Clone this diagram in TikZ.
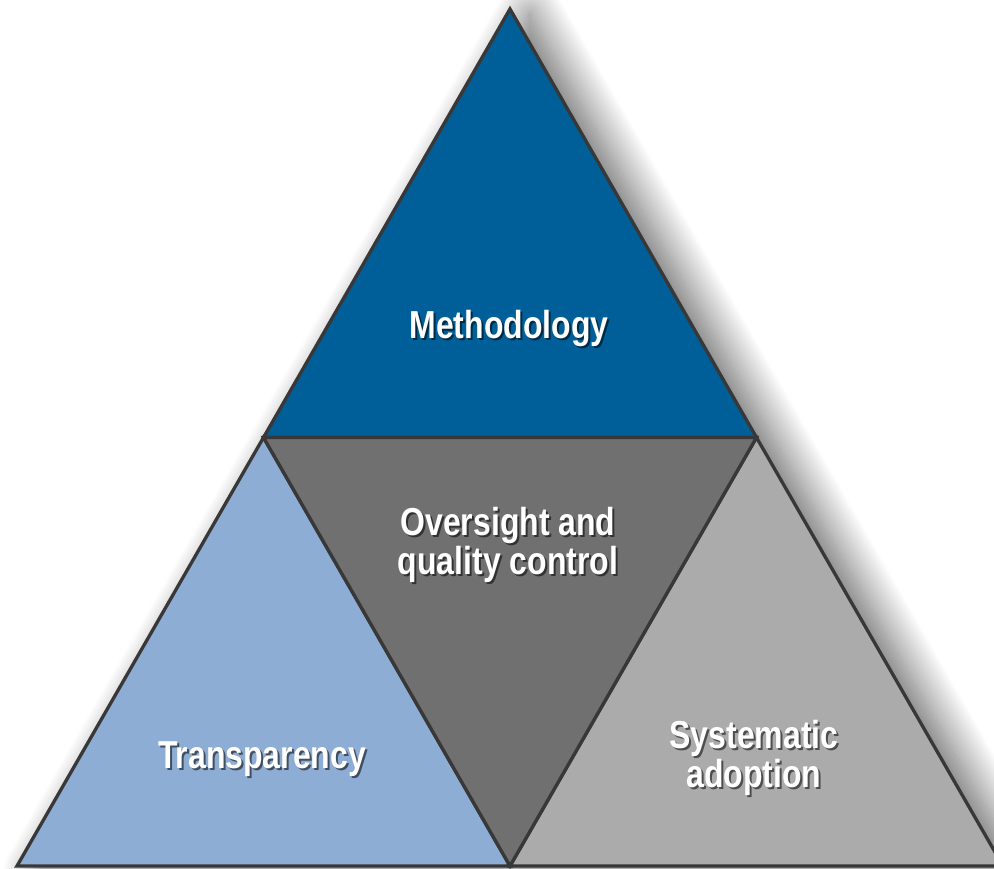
\documentclass[tikz,border=0pt]{standalone}
\usepackage{fontspec}
\usepackage{xcolor}
\usepackage{tikz}
\usetikzlibrary{shadows.blur}
\newfontfamily\labelfont{Liberation Sans}[FakeStretch=0.82]
\definecolor{methblue}{HTML}{005F99}
\definecolor{transblue}{HTML}{8EADD5}
\definecolor{overgray}{HTML}{707070}
\definecolor{adoptgray}{HTML}{ABABAB}
\definecolor{edgegray}{HTML}{383838}
\tikzstyle{piece} = [draw=edgegray, line width=3.3pt, line join=miter]
\tikzstyle{label} = [text=white, align=center, font=\labelfont\bfseries\fontsize{39}{38}\selectfont]
% one line of white text with a dark drop shadow under it
\newcommand{\shadowline}[2]{\rlap{\hspace{2pt}\raisebox{-2pt}{\textcolor{#1}{#2}}}#2}
\begin{document}
\begin{tikzpicture}[x=1pt, y=1pt]
   \useasboundingbox (0,0) rectangle (994,869);
   \coordinate (top) at (510,860);
   \coordinate (bl) at (17,3);
   \coordinate (br) at (1003,3);
   \coordinate (ml) at (263.5,431.5);
   \coordinate (mr) at (756.5,431.5);
   \coordinate (mb) at (510,3);
   % shadow of the whole triangle
   \fill [white, blur shadow={shadow xshift=20pt, shadow yshift=-5pt, shadow blur radius=34pt, shadow blur steps=35, shadow opacity=60}] (top) -- (br) -- (bl) -- cycle;
   % the four parts
   \filldraw [piece, fill=methblue] (top) -- (mr) -- (ml) -- cycle;
   \filldraw [piece, fill=transblue] (ml) -- (mb) -- (bl) -- cycle;
   \filldraw [piece, fill=adoptgray] (mr) -- (br) -- (mb) -- cycle;
   \filldraw [piece, fill=overgray] (ml) -- (mr) -- (mb) -- cycle;
   \node (meth) [label] at (509,539) {\shadowline{methblue!45!black}{Methodology}};
   \node (over) [label] at (508,323) {\shadowline{overgray!45!black}{Oversight and}\\\shadowline{overgray!45!black}{quality control}};
   \node (trans) [label] at (262,109) {\shadowline{transblue!45!black}{Transparency}};
   \node (adopt) [label] at (754,110) {\shadowline{adoptgray!45!black}{Systematic}\\\shadowline{adoptgray!45!black}{adoption}};
\end{tikzpicture}
\end{document}
